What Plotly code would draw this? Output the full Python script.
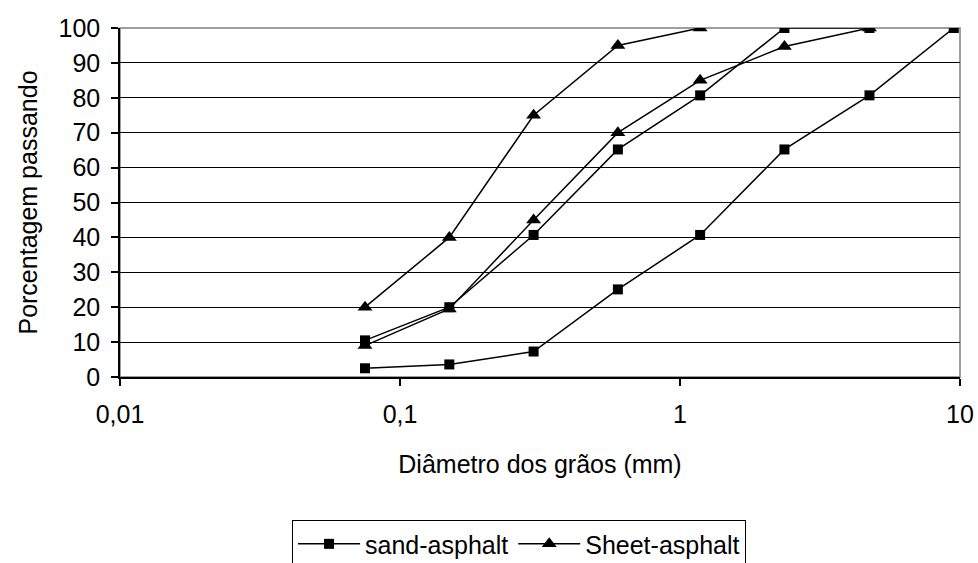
import plotly.graph_objects as go

sieves = [0.075, 0.15, 0.3, 0.6, 1.18, 2.36, 4.75, 9.5]

sand_lower = [2.5, 3.6, 7.3, 25.1, 40.7, 65.2, 80.7, 100]
sand_upper = [10.5, 20, 40.7, 65.2, 80.7, 100, 100]
sheet_upper = [20, 40, 75, 95, 100]
sheet_lower = [9, 19.5, 45, 70, 85, 94.7, 100]

x_tickvals = [0.01, 0.1, 1, 10]
x_ticktext = ["0,01", "0,1", "1", "10"]
y_tickvals = list(range(0, 101, 10))

FONT = "Liberation Sans, Arial, sans-serif"
FS = 25
line_style = dict(color="black", width=1.5)

fig = go.Figure()

fig.add_trace(go.Scatter(
    x=sieves[:len(sheet_upper)], y=sheet_upper, mode="lines+markers",
    name="Sheet-asphalt", legendgroup="sheet", legendrank=2,
    line=line_style, marker=dict(symbol="triangle-up", size=13, color="black")))
fig.add_trace(go.Scatter(
    x=sieves[:len(sheet_lower)], y=sheet_lower, mode="lines+markers",
    name="Sheet-asphalt", legendgroup="sheet", showlegend=False,
    line=line_style, marker=dict(symbol="triangle-up", size=13, color="black")))
fig.add_trace(go.Scatter(
    x=sieves[:len(sand_lower)], y=sand_lower, mode="lines+markers",
    name="sand-asphalt", legendgroup="sand", legendrank=1,
    line=line_style, marker=dict(symbol="square", size=10, color="black")))
fig.add_trace(go.Scatter(
    x=sieves[:len(sand_upper)], y=sand_upper, mode="lines+markers",
    name="sand-asphalt", legendgroup="sand", showlegend=False,
    line=line_style, marker=dict(symbol="square", size=10, color="black")))

fig.update_layout(
    width=978, height=563,
    margin=dict(l=120, r=18, t=28, b=186, autoexpand=False),
    paper_bgcolor="white", plot_bgcolor="white",
    font=dict(family=FONT, size=FS, color="black"),
    showlegend=True,
    legend=dict(orientation="h", x=0.2048, xanchor="left", y=-0.41, yanchor="top",
                bordercolor="black", borderwidth=1, bgcolor="white",
                font=dict(family=FONT, size=FS, color="black"),
                itemwidth=62, traceorder="normal"),
    xaxis=dict(type="log", range=[-2, 1], tickvals=x_tickvals, ticktext=x_ticktext,
               showgrid=False, zeroline=False, showline=True, linecolor="black", linewidth=1.5,
               ticks="outside", ticklen=7, tickcolor="black", tickwidth=1.5,
               tickfont=dict(size=FS), automargin=False, ticklabelstandoff=7,
               title=dict(text="Diâmetro dos grãos (mm)", font=dict(size=FS), standoff=29)),
    yaxis=dict(range=[0, 100], tickvals=y_tickvals, showgrid=True, gridcolor="black", gridwidth=1.2,
               zeroline=False, showline=True, linecolor="black", linewidth=1.5,
               ticks="outside", ticklen=7, tickcolor="black", tickwidth=1.5,
               tickfont=dict(size=FS), automargin=False, ticklabelstandoff=6,
               title=dict(text="Porcentagem passando", font=dict(size=FS), standoff=14)),
    shapes=[dict(type="rect", xref="paper", yref="paper", x0=0, x1=1, y0=0, y1=1,
                 line=dict(color="#808080", width=1.5), layer="below")],
)

fig.write_html(
    "out.html",
    config={"displayModeBar": False},
    post_script="document.body.style.margin='0';document.body.style.overflow='hidden';",
)
